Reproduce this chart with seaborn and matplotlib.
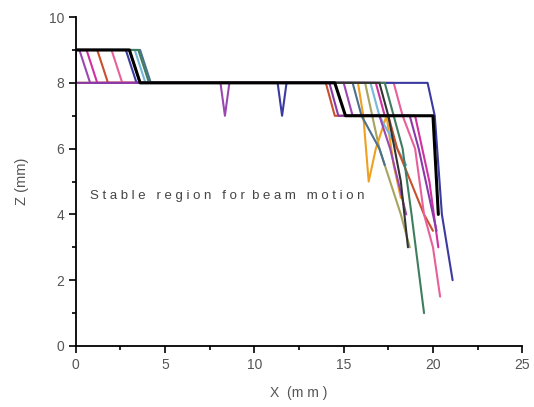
import numpy as np
import pandas as pd
import matplotlib
matplotlib.use("Agg")
import matplotlib.pyplot as plt
from matplotlib.ticker import MultipleLocator
import seaborn as sns

# Trajectories (x in mm, z in mm)
traj_names = ["olive", "orange", "teal", "lightblue", "red", "magenta", "violet",
              "pink", "navy", "purple", "green", "dark", "black"]
traj_colors = ["#a6a45e", "#f0a020", "#4a7090", "#78b8d8", "#c8502c", "#d030a0", "#9a48b0",
               "#e8609a", "#3a3aa0", "#8a3aa8", "#3e7d5e", "#333333", "#000000"]
traj_x = [
    [0, 16.2, 16.6, 17.0, 17.6, 18.2, 18.7],
    [0, 15.8, 16.1, 16.4, 16.8, 17.4, 17.8, 18.2],
    [0, 3.6, 4.2, 15.5, 16.0, 17.0, 17.3],
    [0, 3.3, 3.9, 16.5, 17.0, 18.0, 18.5],
    [0, 1.2, 1.8, 14.0, 14.5, 17.5, 18.0, 19.5, 20.0],
    [0, 0.6, 1.2, 16.8, 17.3, 19.0, 19.8, 20.3],
    [0, 0.2, 0.8, 8.1, 8.35, 8.6, 15.0, 15.5, 17.0, 17.6, 18.5],
    [0, 2.0, 2.6, 17.8, 18.3, 19.0, 19.5, 20.0, 20.4],
    [0, 2.8, 3.4, 11.3, 11.55, 11.8, 19.7, 20.1, 20.5, 21.1],
    [0, 0, 14.2, 14.7, 18.7, 19.2, 19.8, 20.2],
    [0, 3.5, 4.1, 17.3, 17.8, 18.3, 18.8, 19.5],
    [0, 3.0, 3.6, 17.0, 17.5, 18.2, 18.6],
    [0, 3.0, 3.6, 14.5, 15.1, 20.0, 20.3],
]
traj_z = [
    [8, 8, 7, 6, 5, 4, 3],
    [8, 8, 7, 5, 6, 7, 5.5, 4.5],
    [9, 9, 8, 8, 7, 6, 5.5],
    [9, 9, 8, 8, 7, 6, 5.5],
    [9, 9, 8, 8, 7, 7, 6, 4, 3.5],
    [9, 9, 8, 8, 7, 7, 5, 3],
    [9, 9, 8, 8, 7, 8, 8, 7, 7, 6, 4],
    [9, 9, 8, 8, 7, 6, 4, 3, 1.5],
    [9, 9, 8, 8, 7, 8, 8, 7, 4, 2.0],
    [9, 8, 8, 7, 7, 6, 4.5, 3.5],
    [9, 9, 8, 8, 7, 6, 4, 1.0],
    [9, 9, 8, 8, 7, 5, 3.0],
    [9, 9, 8, 8, 7, 7, 4.0],
]

x_ticks = [0, 5, 10, 15, 20, 25]
y_ticks = [0, 2, 4, 6, 8, 10]

rows = []
for name, xs, zs in zip(traj_names, traj_x, traj_z):
    for i, (a, b) in enumerate(zip(xs, zs)):
        rows.append({"traj": name, "order": i, "x": a, "z": b})
df = pd.DataFrame(rows)

sns.set_style("ticks")
plt.rcParams["font.family"] = ["Liberation Sans", "DejaVu Sans"]

fig = plt.figure(figsize=(5.34, 4.07), dpi=100)
ax = fig.add_axes([0.142, 0.150, 0.836, 0.808])

sns.lineplot(data=df, x="x", y="z", hue="traj", hue_order=traj_names,
             palette=dict(zip(traj_names, traj_colors)), sort=False,
             estimator=None, linewidth=1.5, legend=False, ax=ax)
# Black line thicker on top
for line in ax.lines:
    if matplotlib.colors.to_hex(line.get_color()) == "#000000":
        line.set_linewidth(2.2)
        line.set_zorder(5)

ax.set_xlim(0, 25)
ax.set_ylim(0, 10)
ax.set_xticks(x_ticks)
ax.set_yticks(y_ticks)
ax.xaxis.set_minor_locator(MultipleLocator(2.5))
ax.yaxis.set_minor_locator(MultipleLocator(1))
ax.tick_params(which="major", direction="out", length=5, width=1.2,
               labelsize=10, labelcolor="#555555", color="black")
ax.tick_params(which="minor", direction="out", length=3, width=1.2, color="black")
for s in ["top", "right"]:
    ax.spines[s].set_visible(False)
for s in ["left", "bottom"]:
    ax.spines[s].set_linewidth(1.3)
    ax.spines[s].set_color("black")

ax.set_xlabel("X  (m m )", fontsize=10, color="#555555", labelpad=10)
ax.set_ylabel("Z (mm)", fontsize=10.5, color="#555555", labelpad=14)
ax.text(0.8, 4.55, "S t a b l e   r e g i o n   f o r  b e a m   m o t i o n", fontsize=9.5,
        color="#444444", va="center", ha="left")

fig.savefig("out.png", dpi=100)
